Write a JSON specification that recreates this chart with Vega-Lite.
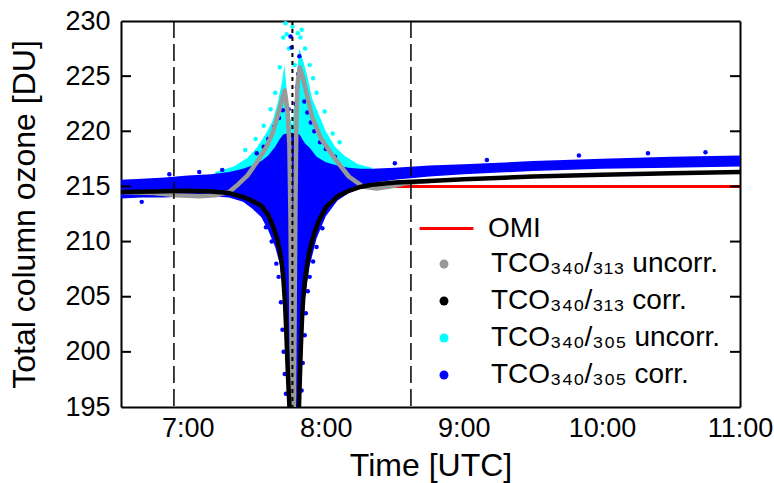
{
 "$schema": "https://vega.github.io/schema/vega-lite/v6.json",
 "width": 619, "height": 386,
 "autosize": "none",
 "padding": {"left": 121, "top": 21, "right": 34, "bottom": 76},
 "background": "white",
 "datasets": {
  "omi": [{"t":"06:31:00","v":215,"s":"OMI"},{"t":"11:00:00","v":215,"s":"OMI"}],
  "black": [
   {"t":"06:31:00","v":214.5},{"t":"06:45:00","v":214.55},{"t":"07:00:00","v":214.6},{"t":"07:10:00","v":214.55},
   {"t":"07:18:00","v":214.4},{"t":"07:24:00","v":214.05},{"t":"07:28:00","v":213.7},{"t":"07:32:00","v":213.25},
   {"t":"07:35:00","v":212.4},{"t":"07:37:00","v":211.4},{"t":"07:39:00","v":210.2},{"t":"07:40:00","v":209.2},
   {"t":"07:41:00","v":207.8},{"t":"07:41:40","v":206.3},{"t":"07:42:20","v":204.2},{"t":"07:42:50","v":201.8},
   {"t":"07:43:20","v":199.0},{"t":"07:43:50","v":196.6},{"t":"07:44:20","v":194.5},{"t":"07:44:50","v":192.0},
   {"t":"07:47:50","v":192.0},{"t":"07:48:20","v":195.0},{"t":"07:48:40","v":197.2},{"t":"07:49:10","v":200.5},
   {"t":"07:49:40","v":203.0},{"t":"07:50:10","v":204.8},{"t":"07:51:00","v":206.6},{"t":"07:52:00","v":208.1},
   {"t":"07:53:00","v":209.2},{"t":"07:55:00","v":210.8},{"t":"07:57:00","v":211.9},{"t":"08:00:00","v":213.1},
   {"t":"08:05:00","v":214.1},{"t":"08:10:00","v":214.6},{"t":"08:15:00","v":214.95},{"t":"08:20:00","v":215.15},
   {"t":"08:30:00","v":215.35},{"t":"08:45:00","v":215.5},{"t":"09:00:00","v":215.65},{"t":"09:30:00","v":215.9},
   {"t":"10:00:00","v":216.05},{"t":"10:30:00","v":216.2},{"t":"11:00:00","v":216.3}
  ],
  "gray": [
   {"t":"06:31:00","v":214.5},{"t":"06:45:00","v":214.4},{"t":"06:55:00","v":214.2},{"t":"07:05:00","v":214.1},
   {"t":"07:12:00","v":214.2},{"t":"07:18:00","v":214.5},{"t":"07:22:00","v":215.2},{"t":"07:26:00","v":216.0},
   {"t":"07:30:00","v":217.2},{"t":"07:34:00","v":218.5},{"t":"07:37:00","v":219.9},{"t":"07:39:00","v":221.3},
   {"t":"07:41:00","v":222.9},{"t":"07:42:10","v":223.7},{"t":"07:43:20","v":221.9},{"t":"07:44:10","v":218.9},
   {"t":"07:44:40","v":212.0},{"t":"07:45:00","v":204.0},{"t":"07:45:20","v":196.0},{"t":"07:45:40","v":192.0},
   {"t":"07:45:50","v":192.0},{"t":"07:46:10","v":196.0},{"t":"07:46:30","v":205.0},{"t":"07:46:50","v":214.0},
   {"t":"07:47:10","v":220.0},{"t":"07:47:40","v":224.2},{"t":"07:48:40","v":225.8},{"t":"07:50:00","v":224.9},
   {"t":"07:51:00","v":224.0},{"t":"07:54:00","v":221.3},{"t":"07:58:00","v":219.3},{"t":"08:04:00","v":217.5},
   {"t":"08:10:00","v":215.9},{"t":"08:16:00","v":215.0},{"t":"08:22:00","v":214.8},{"t":"08:28:00","v":215.0},
   {"t":"08:35:00","v":215.3},{"t":"08:45:00","v":215.5}
  ],
  "blueband": [
   {"t":"06:31:00","lo":213.9,"hi":215.6},{"t":"06:40:00","lo":214.0,"hi":215.7},{"t":"06:50:00","lo":214.0,"hi":215.8},
   {"t":"07:00:00","lo":214.1,"hi":216.0},{"t":"07:10:00","lo":214.1,"hi":216.1},{"t":"07:18:00","lo":214.0,"hi":216.3},
   {"t":"07:24:00","lo":213.6,"hi":216.6},{"t":"07:28:00","lo":213.0,"hi":216.9},{"t":"07:32:00","lo":212.2,"hi":217.3},
   {"t":"07:35:00","lo":211.0,"hi":217.8},{"t":"07:38:00","lo":209.5,"hi":218.6},{"t":"07:40:00","lo":208.0,"hi":219.3},
   {"t":"07:41:30","lo":205.5,"hi":219.7},{"t":"07:43:00","lo":200.0,"hi":219.8},{"t":"07:44:00","lo":195.0,"hi":219.8},
   {"t":"07:48:00","lo":195.0,"hi":219.8},{"t":"07:49:00","lo":198.0,"hi":219.6},{"t":"07:50:00","lo":202.0,"hi":219.2},
   {"t":"07:51:00","lo":205.0,"hi":218.9},{"t":"07:53:00","lo":207.8,"hi":218.5},{"t":"07:56:00","lo":210.3,"hi":217.7},
   {"t":"08:00:00","lo":212.3,"hi":217.2},{"t":"08:05:00","lo":213.7,"hi":216.9},{"t":"08:10:00","lo":214.4,"hi":216.7},
   {"t":"08:15:00","lo":214.9,"hi":216.6},{"t":"08:20:00","lo":215.3,"hi":216.6},{"t":"08:30:00","lo":215.6,"hi":216.7},
   {"t":"08:45:00","lo":215.9,"hi":216.9},{"t":"09:00:00","lo":216.1,"hi":217.0},{"t":"09:30:00","lo":216.4,"hi":217.3},
   {"t":"10:00:00","lo":216.6,"hi":217.5},{"t":"10:30:00","lo":216.7,"hi":217.7},{"t":"11:00:00","lo":216.8,"hi":217.8}
  ],
  "cyanband": [
   {"t":"07:12:00","lo":215.5,"hi":216.3},{"t":"07:20:00","lo":215.5,"hi":216.8},{"t":"07:26:00","lo":215.5,"hi":217.6},
   {"t":"07:30:00","lo":215.5,"hi":218.5},{"t":"07:34:00","lo":215.5,"hi":219.8},{"t":"07:37:00","lo":215.5,"hi":221.0},
   {"t":"07:39:00","lo":215.5,"hi":222.5},{"t":"07:41:00","lo":215.5,"hi":224.5},{"t":"07:42:00","lo":215.5,"hi":226.0},
   {"t":"07:44:00","lo":215.5,"hi":221.5},{"t":"07:45:30","lo":215.5,"hi":220.5},{"t":"07:47:00","lo":215.5,"hi":224.0},
   {"t":"07:48:30","lo":215.5,"hi":227.5},{"t":"07:50:00","lo":215.5,"hi":226.5},{"t":"07:52:00","lo":215.5,"hi":225.0},
   {"t":"07:54:00","lo":215.5,"hi":223.0},{"t":"07:57:00","lo":215.5,"hi":221.5},{"t":"08:00:00","lo":215.5,"hi":220.0},
   {"t":"08:04:00","lo":215.5,"hi":218.6},{"t":"08:08:00","lo":215.5,"hi":217.8},{"t":"08:14:00","lo":215.5,"hi":217.0},
   {"t":"08:20:00","lo":215.5,"hi":216.7}
  ],
  "cyanpts": [
   {"t":"07:42:30","v":229.8,"s":"TCO₃₄₀/₃₀₅ uncorr."},{"t":"07:41:30","v":228.5,"s":"TCO₃₄₀/₃₀₅ uncorr."},
   {"t":"07:43:00","v":228.8,"s":"TCO₃₄₀/₃₀₅ uncorr."},{"t":"07:45:30","v":229.5,"s":"TCO₃₄₀/₃₀₅ uncorr."},
   {"t":"07:44:00","v":227.5,"s":"TCO₃₄₀/₃₀₅ uncorr."},{"t":"07:46:30","v":226.0,"s":"TCO₃₄₀/₃₀₅ uncorr."},
   {"t":"07:49:00","v":228.5,"s":"TCO₃₄₀/₃₀₅ uncorr."},{"t":"07:49:30","v":229.2,"s":"TCO₃₄₀/₃₀₅ uncorr."},
   {"t":"07:51:00","v":227.5,"s":"TCO₃₄₀/₃₀₅ uncorr."},{"t":"07:38:00","v":223.5,"s":"TCO₃₄₀/₃₀₅ uncorr."},
   {"t":"07:36:00","v":222.0,"s":"TCO₃₄₀/₃₀₅ uncorr."},{"t":"07:33:00","v":220.5,"s":"TCO₃₄₀/₃₀₅ uncorr."},
   {"t":"07:29:30","v":219.3,"s":"TCO₃₄₀/₃₀₅ uncorr."},{"t":"07:53:00","v":226.0,"s":"TCO₃₄₀/₃₀₅ uncorr."},
   {"t":"07:56:00","v":223.5,"s":"TCO₃₄₀/₃₀₅ uncorr."},{"t":"07:59:30","v":221.8,"s":"TCO₃₄₀/₃₀₅ uncorr."},
   {"t":"08:03:00","v":219.8,"s":"TCO₃₄₀/₃₀₅ uncorr."},{"t":"08:06:00","v":219.0,"s":"TCO₃₄₀/₃₀₅ uncorr."},
   {"t":"07:25:00","v":218.3,"s":"TCO₃₄₀/₃₀₅ uncorr."},{"t":"07:44:50","v":200.0,"s":"TCO₃₄₀/₃₀₅ uncorr."},
   {"t":"07:47:20","v":204.0,"s":"TCO₃₄₀/₃₀₅ uncorr."},{"t":"07:40:00","v":225.8,"s":"TCO₃₄₀/₃₀₅ uncorr."},
   {"t":"07:47:50","v":228.9,"s":"TCO₃₄₀/₃₀₅ uncorr."},{"t":"07:54:30","v":224.8,"s":"TCO₃₄₀/₃₀₅ uncorr."}
  ],
  "bluepts": [
   {"t":"07:44:40","v":228.6,"s":"TCO₃₄₀/₃₀₅ corr."},{"t":"07:45:10","v":227.6,"s":"TCO₃₄₀/₃₀₅ corr."},
   {"t":"07:48:30","v":226.8,"s":"TCO₃₄₀/₃₀₅ corr."},{"t":"07:48:00","v":225.2,"s":"TCO₃₄₀/₃₀₅ corr."},
   {"t":"07:47:30","v":224.0,"s":"TCO₃₄₀/₃₀₅ corr."},{"t":"07:46:50","v":222.5,"s":"TCO₃₄₀/₃₀₅ corr."},
   {"t":"07:42:40","v":222.8,"s":"TCO₃₄₀/₃₀₅ corr."},{"t":"07:41:20","v":221.9,"s":"TCO₃₄₀/₃₀₅ corr."},
   {"t":"07:39:40","v":221.2,"s":"TCO₃₄₀/₃₀₅ corr."},{"t":"07:43:50","v":222.0,"s":"TCO₃₄₀/₃₀₅ corr."},
   {"t":"07:50:40","v":222.7,"s":"TCO₃₄₀/₃₀₅ corr."},{"t":"07:52:00","v":221.7,"s":"TCO₃₄₀/₃₀₅ corr."},
   {"t":"07:53:30","v":220.8,"s":"TCO₃₄₀/₃₀₅ corr."},{"t":"07:55:00","v":220.0,"s":"TCO₃₄₀/₃₀₅ corr."},
   {"t":"07:37:30","v":220.4,"s":"TCO₃₄₀/₃₀₅ corr."},{"t":"07:35:00","v":219.3,"s":"TCO₃₄₀/₃₀₅ corr."},
   {"t":"07:33:00","v":218.6,"s":"TCO₃₄₀/₃₀₅ corr."},{"t":"07:57:30","v":219.0,"s":"TCO₃₄₀/₃₀₅ corr."},
   {"t":"08:00:00","v":218.4,"s":"TCO₃₄₀/₃₀₅ corr."},{"t":"08:04:00","v":217.7,"s":"TCO₃₄₀/₃₀₅ corr."},
   {"t":"07:30:00","v":218.0,"s":"TCO₃₄₀/₃₀₅ corr."},{"t":"07:36:30","v":210.0,"s":"TCO₃₄₀/₃₀₅ corr."},
   {"t":"07:38:30","v":208.0,"s":"TCO₃₄₀/₃₀₅ corr."},{"t":"07:39:30","v":206.8,"s":"TCO₃₄₀/₃₀₅ corr."},
   {"t":"07:40:30","v":204.5,"s":"TCO₃₄₀/₃₀₅ corr."},{"t":"07:41:10","v":202.0,"s":"TCO₃₄₀/₃₀₅ corr."},
   {"t":"07:41:40","v":200.0,"s":"TCO₃₄₀/₃₀₅ corr."},{"t":"07:42:10","v":198.0,"s":"TCO₃₄₀/₃₀₅ corr."},
   {"t":"07:42:40","v":196.2,"s":"TCO₃₄₀/₃₀₅ corr."},{"t":"07:49:30","v":196.5,"s":"TCO₃₄₀/₃₀₅ corr."},
   {"t":"07:50:00","v":199.0,"s":"TCO₃₄₀/₃₀₅ corr."},{"t":"07:50:50","v":201.5,"s":"TCO₃₄₀/₃₀₅ corr."},
   {"t":"07:51:20","v":203.5,"s":"TCO₃₄₀/₃₀₅ corr."},{"t":"07:52:10","v":205.5,"s":"TCO₃₄₀/₃₀₅ corr."},
   {"t":"07:53:00","v":206.8,"s":"TCO₃₄₀/₃₀₅ corr."},{"t":"07:54:30","v":208.2,"s":"TCO₃₄₀/₃₀₅ corr."},
   {"t":"07:56:00","v":209.5,"s":"TCO₃₄₀/₃₀₅ corr."},{"t":"07:34:00","v":211.3,"s":"TCO₃₄₀/₃₀₅ corr."},
   {"t":"07:58:30","v":211.2,"s":"TCO₃₄₀/₃₀₅ corr."},{"t":"06:40:00","v":213.6,"s":"TCO₃₄₀/₃₀₅ corr."},
   {"t":"06:52:00","v":216.1,"s":"TCO₃₄₀/₃₀₅ corr."},{"t":"07:05:00","v":216.3,"s":"TCO₃₄₀/₃₀₅ corr."},
   {"t":"07:15:00","v":216.5,"s":"TCO₃₄₀/₃₀₅ corr."},{"t":"08:30:00","v":217.1,"s":"TCO₃₄₀/₃₀₅ corr."},
   {"t":"09:10:00","v":217.4,"s":"TCO₃₄₀/₃₀₅ corr."},{"t":"09:50:00","v":217.8,"s":"TCO₃₄₀/₃₀₅ corr."},
   {"t":"10:20:00","v":218.0,"s":"TCO₃₄₀/₃₀₅ corr."},{"t":"10:45:00","v":218.1,"s":"TCO₃₄₀/₃₀₅ corr."}
  ],
  "dash": [{"t":"06:54:00"},{"t":"08:37:00"}],
  "dot": [{"t":"07:45:30"}],
  "xticks": [{"t":"07:00:00"},{"t":"08:00:00"},{"t":"09:00:00"},{"t":"10:00:00"}],
  "yticks": [{"v":200},{"v":205},{"v":210},{"v":215},{"v":220},{"v":225}]
 },
 "layer": [
  {
   "data": {"name": "omi", "format": {"parse": {"t": "utc:'%H:%M:%S'"}}},
   "mark": {"type": "line", "strokeWidth": 3},
   "encoding": {
    "x": {"field": "t", "type": "temporal", "scale": {"type": "utc", "domain": [{"year":1900,"month":1,"date":1,"hours":6,"minutes":31,"utc":true},{"year":1900,"month":1,"date":1,"hours":11,"utc":true}]},
          "axis": {"orient": "top", "labels": false, "domain": true, "title": null, "ticks": false, "values": [{"year":1900,"month":1,"date":1,"hours":7,"utc":true}]}},
    "y": {"field": "v", "type": "quantitative", "scale": {"domain": [195, 230], "nice": false, "zero": false},
          "axis": {"orient": "right", "labels": false, "domain": true, "title": null, "ticks": false, "values": [200]}},
    "stroke": {"field": "s", "type": "nominal", "title": null, "scale": {"domain": ["OMI"], "range": ["#ff0000"]},
      "legend": {"orient": "none", "legendX": 297, "legendY": 179, "padding": 0, "labelOffset": 13, "labelFontSize": 28, "labelFont": "Liberation Sans", "labelLimit": 500, "labelColor": "#000000", "symbolType": "stroke", "symbolSize": 2900, "symbolStrokeWidth": 3}}
   }
  },
  {
   "data": {"name": "cyanband", "format": {"parse": {"t": "utc:'%H:%M:%S'"}}},
   "mark": {"type": "area", "color": "#00ffff", "clip": true, "opacity": 1},
   "encoding": {
    "x": {"field": "t", "type": "temporal", "scale": {"type": "utc", "domain": [{"year":1900,"month":1,"date":1,"hours":6,"minutes":31,"utc":true},{"year":1900,"month":1,"date":1,"hours":11,"utc":true}]}, "axis": null},
    "y": {"field": "lo", "type": "quantitative", "scale": {"domain": [195, 230], "nice": false, "zero": false}, "axis": null},
    "y2": {"field": "hi"}
   }
  },
  {
   "data": {"name": "cyanpts", "format": {"parse": {"t": "utc:'%H:%M:%S'"}}},
   "mark": {"type": "circle", "size": 20, "opacity": 1, "clip": true},
   "encoding": {
    "x": {"field": "t", "type": "temporal", "scale": {"type": "utc", "domain": [{"year":1900,"month":1,"date":1,"hours":6,"minutes":31,"utc":true},{"year":1900,"month":1,"date":1,"hours":11,"utc":true}]}, "axis": null},
    "y": {"field": "v", "type": "quantitative", "scale": {"domain": [195, 230], "nice": false, "zero": false}, "axis": null},
    "color": {"field": "s", "type": "nominal", "title": null,
      "scale": {"domain": ["TCO₃₄₀/₃₁₃ uncorr.","TCO₃₄₀/₃₁₃ corr.","TCO₃₄₀/₃₀₅ uncorr.","TCO₃₄₀/₃₀₅ corr."], "range": ["#999999","#000000","#00ffff","#0000ff"]},
      "legend": {"orient": "none", "legendX": 309, "legendY": 229, "padding": 0, "rowPadding": 9, "labelOffset": 33, "labelFontSize": 28, "labelFont": "Liberation Sans", "labelLimit": 500, "labelColor": "#000000", "symbolType": "circle", "symbolSize": 80}}
   }
  },
  {
   "data": {"name": "blueband", "format": {"parse": {"t": "utc:'%H:%M:%S'"}}},
   "mark": {"type": "area", "color": "#0000ff", "clip": true, "opacity": 1},
   "encoding": {
    "x": {"field": "t", "type": "temporal", "scale": {"type": "utc", "domain": [{"year":1900,"month":1,"date":1,"hours":6,"minutes":31,"utc":true},{"year":1900,"month":1,"date":1,"hours":11,"utc":true}]}, "axis": null},
    "y": {"field": "lo", "type": "quantitative", "scale": {"domain": [195, 230], "nice": false, "zero": false}, "axis": null},
    "y2": {"field": "hi"}
   }
  },
  {
   "data": {"name": "bluepts", "format": {"parse": {"t": "utc:'%H:%M:%S'"}}},
   "mark": {"type": "circle", "size": 20, "opacity": 1, "clip": true},
   "encoding": {
    "x": {"field": "t", "type": "temporal", "scale": {"type": "utc", "domain": [{"year":1900,"month":1,"date":1,"hours":6,"minutes":31,"utc":true},{"year":1900,"month":1,"date":1,"hours":11,"utc":true}]}, "axis": null},
    "y": {"field": "v", "type": "quantitative", "scale": {"domain": [195, 230], "nice": false, "zero": false}, "axis": null},
    "color": {"field": "s", "type": "nominal", "title": null,
      "scale": {"domain": ["TCO₃₄₀/₃₁₃ uncorr.","TCO₃₄₀/₃₁₃ corr.","TCO₃₄₀/₃₀₅ uncorr.","TCO₃₄₀/₃₀₅ corr."], "range": ["#999999","#000000","#00ffff","#0000ff"]},
      "legend": {"orient": "none", "legendX": 309, "legendY": 229, "padding": 0, "rowPadding": 9, "labelOffset": 33, "labelFontSize": 28, "labelFont": "Liberation Sans", "labelLimit": 500, "labelColor": "#000000", "symbolType": "circle", "symbolSize": 80}}
   }
  },
  {
   "data": {"name": "gray", "format": {"parse": {"t": "utc:'%H:%M:%S'"}}},
   "mark": {"type": "line", "color": "#999999", "strokeWidth": 4.5, "clip": true, "strokeJoin": "round", "strokeCap": "round"},
   "encoding": {
    "x": {"field": "t", "type": "temporal", "scale": {"type": "utc", "domain": [{"year":1900,"month":1,"date":1,"hours":6,"minutes":31,"utc":true},{"year":1900,"month":1,"date":1,"hours":11,"utc":true}]}, "axis": null},
    "y": {"field": "v", "type": "quantitative", "scale": {"domain": [195, 230], "nice": false, "zero": false}, "axis": null}
   }
  },
  {
   "data": {"name": "black", "format": {"parse": {"t": "utc:'%H:%M:%S'"}}},
   "mark": {"type": "line", "color": "#000000", "strokeWidth": 4.5, "clip": true, "strokeJoin": "round", "strokeCap": "round"},
   "encoding": {
    "x": {"field": "t", "type": "temporal", "scale": {"type": "utc", "domain": [{"year":1900,"month":1,"date":1,"hours":6,"minutes":31,"utc":true},{"year":1900,"month":1,"date":1,"hours":11,"utc":true}]},
          "axis": {"orient": "bottom", "title": "Time [UTC]", "format": "%-H:%M", "ticks": false, "tickSize": 0, "labelPadding": 8, "titlePadding": 9, "labelFlush": false, "labelOverlap": false,
                   "values": [{"year":1900,"month":1,"date":1,"hours":7,"utc":true},{"year":1900,"month":1,"date":1,"hours":8,"utc":true},{"year":1900,"month":1,"date":1,"hours":9,"utc":true},{"year":1900,"month":1,"date":1,"hours":10,"utc":true},{"year":1900,"month":1,"date":1,"hours":11,"utc":true}]}},
    "y": {"field": "v", "type": "quantitative", "scale": {"domain": [195, 230], "nice": false, "zero": false},
          "axis": {"orient": "left", "title": "Total column ozone [DU]", "ticks": false, "tickSize": 0, "labelPadding": 11, "titlePadding": 23, "values": [195,200,205,210,215,220,225,230]}}
   }
  },
  {
   "data": {"name": "dash", "format": {"parse": {"t": "utc:'%H:%M:%S'"}}},
   "mark": {"type": "rule", "color": "#000000", "strokeWidth": 1.5, "strokeDash": [17, 6]},
   "encoding": {
    "x": {"field": "t", "type": "temporal", "scale": {"type": "utc", "domain": [{"year":1900,"month":1,"date":1,"hours":6,"minutes":31,"utc":true},{"year":1900,"month":1,"date":1,"hours":11,"utc":true}]}, "axis": null}
   }
  },
  {
   "data": {"name": "dot", "format": {"parse": {"t": "utc:'%H:%M:%S'"}}},
   "mark": {"type": "rule", "color": "#000000", "strokeWidth": 2, "strokeDash": [4, 4]},
   "encoding": {
    "x": {"field": "t", "type": "temporal", "scale": {"type": "utc", "domain": [{"year":1900,"month":1,"date":1,"hours":6,"minutes":31,"utc":true},{"year":1900,"month":1,"date":1,"hours":11,"utc":true}]}, "axis": null}
   }
  },
  {
   "data": {"name": "xticks", "format": {"parse": {"t": "utc:'%H:%M:%S'"}}},
   "mark": {"type": "rule", "color": "#000000", "strokeWidth": 2},
   "encoding": {
    "x": {"field": "t", "type": "temporal", "scale": {"type": "utc", "domain": [{"year":1900,"month":1,"date":1,"hours":6,"minutes":31,"utc":true},{"year":1900,"month":1,"date":1,"hours":11,"utc":true}]}, "axis": null},
    "y": {"datum": 195, "type": "quantitative", "scale": {"domain": [195, 230], "nice": false, "zero": false}, "axis": null},
    "y2": {"datum": 195.9}
   }
  },
  {
   "data": {"name": "xticks", "format": {"parse": {"t": "utc:'%H:%M:%S'"}}},
   "mark": {"type": "rule", "color": "#000000", "strokeWidth": 2},
   "encoding": {
    "x": {"field": "t", "type": "temporal", "scale": {"type": "utc", "domain": [{"year":1900,"month":1,"date":1,"hours":6,"minutes":31,"utc":true},{"year":1900,"month":1,"date":1,"hours":11,"utc":true}]}, "axis": null},
    "y": {"datum": 230, "type": "quantitative", "scale": {"domain": [195, 230], "nice": false, "zero": false}, "axis": null},
    "y2": {"datum": 229.1}
   }
  },
  {
   "data": {"name": "yticks"},
   "mark": {"type": "rule", "color": "#000000", "strokeWidth": 2},
   "encoding": {
    "x": {"datum": {"year":1900,"month":1,"date":1,"hours":6,"minutes":31,"utc":true}, "type": "temporal", "scale": {"type": "utc", "domain": [{"year":1900,"month":1,"date":1,"hours":6,"minutes":31,"utc":true},{"year":1900,"month":1,"date":1,"hours":11,"utc":true}]}, "axis": null},
    "x2": {"datum": {"year":1900,"month":1,"date":1,"hours":6,"minutes":35,"seconds":20,"utc":true}},
    "y": {"field": "v", "type": "quantitative", "scale": {"domain": [195, 230], "nice": false, "zero": false}, "axis": null}
   }
  },
  {
   "data": {"name": "yticks"},
   "mark": {"type": "rule", "color": "#000000", "strokeWidth": 2},
   "encoding": {
    "x": {"datum": {"year":1900,"month":1,"date":1,"hours":11,"utc":true}, "type": "temporal", "scale": {"type": "utc", "domain": [{"year":1900,"month":1,"date":1,"hours":6,"minutes":31,"utc":true},{"year":1900,"month":1,"date":1,"hours":11,"utc":true}]}, "axis": null},
    "x2": {"datum": {"year":1900,"month":1,"date":1,"hours":10,"minutes":55,"seconds":40,"utc":true}},
    "y": {"field": "v", "type": "quantitative", "scale": {"domain": [195, 230], "nice": false, "zero": false}, "axis": null}
   }
  }
 ],
 "resolve": {"axis": {"x": "independent", "y": "independent"}},
 "config": {
  "view": {"stroke": null},
  "font": "Liberation Sans",
  "axis": {"domainColor": "#000000", "domainWidth": 2, "grid": false, "zindex": 1,
           "labelFont": "Liberation Sans", "labelFontSize": 27, "labelColor": "#000000",
           "titleFont": "Liberation Sans", "titleFontSize": 32, "titleFontWeight": "normal", "titleColor": "#000000"}
 }
}
